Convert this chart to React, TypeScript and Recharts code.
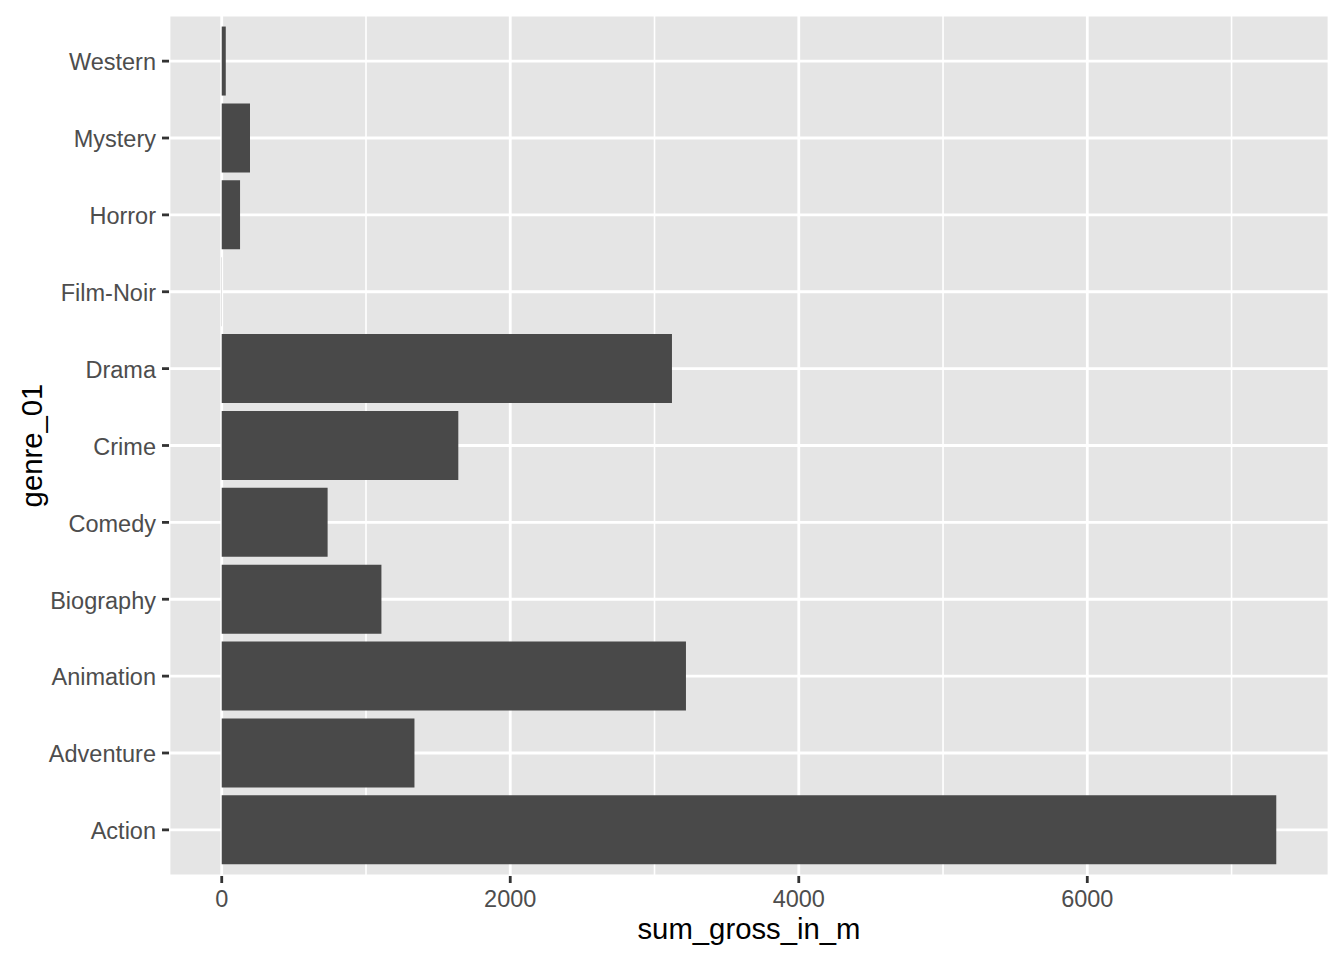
import { BarChart, Bar, XAxis, YAxis, CartesianGrid } from "recharts";

const genres = ["Action", "Adventure", "Animation", "Biography", "Comedy", "Crime", "Drama", "Film-Noir", "Horror", "Mystery", "Western"];
const grossSums = [7310, 1336, 3218, 1107, 734, 1640, 3121, 1, 127, 196, 28];
const majorTicks = [0, 2000, 4000, 6000];
const minorTicks = [1000, 3000, 5000, 7000];

const data = genres.map((g, i) => ({ genre_01: g, sum_gross_in_m: grossSums[i] }));

const maxV = Math.max(...grossSums);
const xMin = -0.05 * maxV;
const xMax = maxV * 1.05;

const FONT = '"Liberation Sans", Arial, Helvetica, sans-serif';

export default function App() {
  return (
    <div style={{ position: "absolute", left: 0, top: 0, background: "#fff" }}>
      <BarChart
        width={1344}
        height={960}
        data={data}
        layout="vertical"
        margin={{ top: 15, right: 15, bottom: 0, left: 0 }}
        barCategoryGap="5%"
        style={{ fontFamily: FONT }}
      >
        <CartesianGrid fill="#E5E5E5" stroke="#FFFFFF" strokeWidth={2.8} />
        <CartesianGrid
          fill="none"
          stroke="#FFFFFF"
          strokeWidth={1.6}
          horizontal={false}
          verticalCoordinatesGenerator={({ offset }: any) =>
            minorTicks.map((v) => offset.left + ((v - xMin) / (xMax - xMin)) * offset.width)
          }
        />
        <XAxis
          type="number"
          dataKey="sum_gross_in_m"
          domain={[xMin, xMax]}
          ticks={majorTicks}
          allowDataOverflow
          height={84}
          axisLine={false}
          tickSize={7}
          tickMargin={7}
          tickLine={{ stroke: "#333333", strokeWidth: 2.8 }}
          tick={{ fill: "#4D4D4D", fontSize: 23.5, fontFamily: FONT }}
          label={{
            value: "sum_gross_in_m",
            position: "insideBottom",
            offset: 21,
            fill: "#000000",
            fontSize: 29.3,
            fontFamily: FONT,
          }}
        />
        <YAxis
          type="category"
          dataKey="genre_01"
          reversed
          width={169}
          padding={{ top: 7.7, bottom: 7.7 }}
          axisLine={false}
          tickSize={7}
          tickMargin={6}
          tickLine={{ stroke: "#333333", strokeWidth: 2.8 }}
          tick={{ fill: "#4D4D4D", fontSize: 23.5, fontFamily: FONT, dy: 1 }}
          interval={0}
          label={{
            content: (props: any) => {
              const vb = props.viewBox || { y: 15, height: 861 };
              const cx = 31;
              const cy = vb.y + vb.height / 2;
              return (
                <text
                  x={cx}
                  y={cy}
                  transform={`rotate(-90 ${cx} ${cy})`}
                  textAnchor="middle"
                  dominantBaseline="central"
                  fill="#000000"
                  fontSize={29.3}
                  fontFamily={FONT}
                >
                  genre_01
                </text>
              );
            },
          }}
        />
        <Bar dataKey="sum_gross_in_m" fill="#494949" isAnimationActive={false} />
      </BarChart>
    </div>
  );
}
